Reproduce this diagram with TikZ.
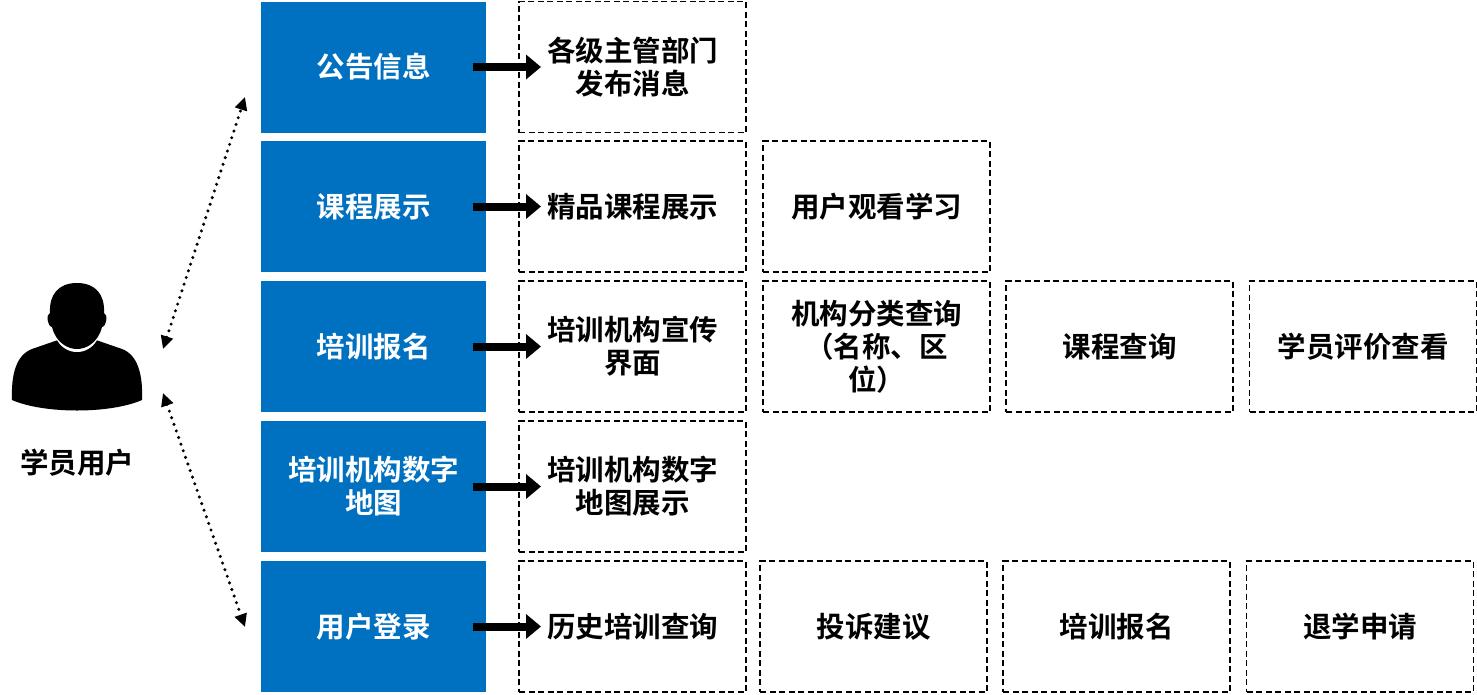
\documentclass[tikz,border=0pt]{standalone}
\usepackage{fontspec}
\setmainfont{Noto Sans CJK SC}[BoldFont={Noto Sans CJK SC Bold}]
\usetikzlibrary{arrows.meta}
\definecolor{bl}{HTML}{0070C0}
\begin{document}
\begin{tikzpicture}[x=1pt,y=-1pt,
 bbox/.style={fill=bl,text=white,font=\bfseries\fontsize{28.5}{33}\selectfont,align=center,text width=205pt,inner sep=0pt},
 dbox/.style={draw,dash pattern=on 6pt off 3.5pt,line width=1.4pt,font=\bfseries\fontsize{28.5}{33}\selectfont,align=center,text width=215pt,inner sep=0pt},
 fat/.style={line width=8pt,-{Triangle[length=15pt,width=24pt]}},
 dot/.style={line width=3.4pt,line cap=round,dash pattern=on 0pt off 7pt,{Triangle[length=13pt,width=12pt,line cap=butt]}-{Triangle[length=13pt,width=12pt,line cap=butt]}}]
\useasboundingbox (0,0) rectangle (1477,694);
\def\rowy{{67,206.5,346.5,486.5,626.5}}
\foreach \i/\t in {1/公告信息,2/课程展示,3/培训报名,4/{培训机构数字\\地图},5/用户登录}{
  \pgfmathsetmacro\yc{\rowy[\i-1]}
  \node[bbox,minimum width=225pt,minimum height=131pt] (b\i) at (373.5,\yc) {\t};
}
\newcommand\dbx[4]{\node[dbox,minimum width=227pt,minimum height=131pt] (#1) at (#2,#3) {#4};}
\dbx{c11}{632.5}{67}{各级主管部门\\发布消息}
\dbx{c21}{632.5}{206.5}{精品课程展示}
\dbx{c22}{876.5}{206.5}{用户观看学习}
\dbx{c31}{632.5}{346.5}{培训机构宣传\\界面}
\dbx{c32}{876.5}{346.5}{机构分类查询\\（名称、区\\位）}
\dbx{c33}{1119.5}{346.5}{课程查询}
\dbx{c34}{1363}{346.5}{学员评价查看}
\dbx{c41}{632.5}{486.5}{培训机构数字\\地图展示}
\dbx{c51}{632.5}{626.5}{历史培训查询}
\dbx{c52}{873.5}{626.5}{投诉建议}
\dbx{c53}{1116.5}{626.5}{培训报名}
\dbx{c54}{1360}{626.5}{退学申请}
\foreach \i in {1,...,5}{
  \pgfmathsetmacro\yc{\rowy[\i-1]}
  \coordinate (s\i) at (473,\yc); \coordinate (e\i) at (541,\yc);
  \draw[fat] (s\i) -- (e\i);
}
% person
\node[font=\bfseries\fontsize{28.5}{33}\selectfont] (lbl) at (77,463) {学员用户};
\fill (12,400) .. controls (11,375) and (16,355) .. (32,349) -- (58,340) -- (96,340)
 -- (122,349) .. controls (138,355) and (143,375) .. (142,400) .. controls (110,414) and (44,414) .. (12,400) -- cycle;
\fill[white] (57,340) .. controls (66,356) and (88,356) .. (97,340) -- cycle;
\fill (77,283) .. controls (58,283) and (49,295) .. (50,313) .. controls (46,314) and (47,326) .. (52,327)
 .. controls (56,343) and (68,349) .. (77,349) .. controls (86,349) and (98,343) .. (102,327)
 .. controls (107,326) and (108,314) .. (104,313) .. controls (105,295) and (96,283) .. (77,283) -- cycle;
\coordinate (p1) at (245,97); \coordinate (p2) at (163,349);
\coordinate (p3) at (163,393); \coordinate (p4) at (245,627);
\draw[dot] (p2) -- (p1);
\draw[dot] (p3) -- (p4);
\end{tikzpicture}
\end{document}
